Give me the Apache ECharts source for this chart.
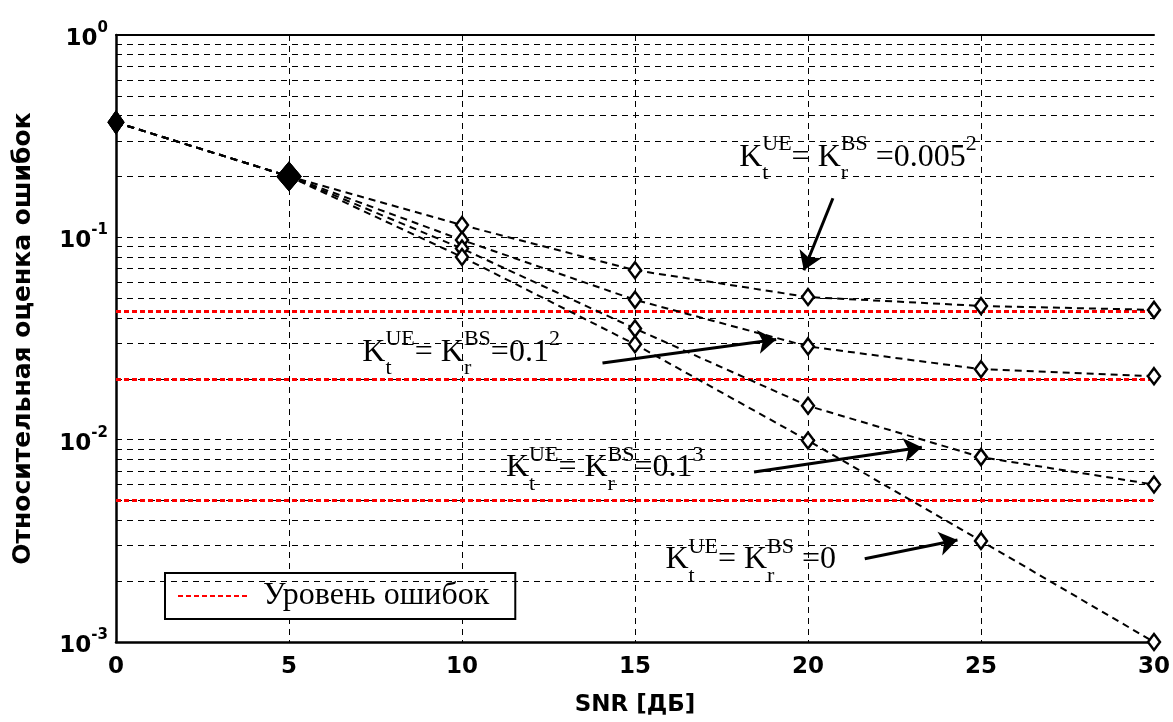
<!DOCTYPE html>
<html>
<head>
<meta charset="utf-8">
<script src="https://cdn.jsdelivr.net/npm/echarts@6/dist/echarts.min.js"></script>
<style>
  html, body { margin: 0; padding: 0; background: #fff; }
  #chart { width: 1173px; height: 722px; }
</style>
</head>
<body>
<div id="chart"></div>
<script>
// SNR values (dB)
const snr = [0, 5, 10, 15, 20, 25, 30];

// Relative error estimate for each impairment level
const errK0052 = [0.37, 0.20, 0.115, 0.0688, 0.0507, 0.0458, 0.0438]; // K = 0.005^2
const errK012 = [0.37, 0.20, 0.097, 0.0491, 0.0289, 0.0223, 0.0206];  // K = 0.1^2
const errK013 = [0.37, 0.20, 0.088, 0.0354, 0.0147, 0.0082, 0.0060];  // K = 0.1^3
const errK0 = [0.37, 0.20, 0.080, 0.0296, 0.0099, 0.00316, 0.0010];   // K = 0

// Error level thresholds
const errorLevels = [0.043, 0.02, 0.005];

// Axis ticks
const xTicks = [0, 5, 10, 15, 20, 25, 30];
const yDecades = [0.001, 0.01, 0.1, 1];

// Annotation text anchors (data coords) and arrows (from -> to, data coords)
const annotations = [
  { at: [18.01, 0.2478], value: '0.005', exp: '2', gap: ' ' },
  { at: [7.12, 0.0270], value: '0.1', exp: '2', gap: '' },
  { at: [11.27, 0.00725], value: '0.1', exp: '3', gap: '' },
  { at: [15.88, 0.00255], value: '0', exp: '', gap: ' ' }
];
const arrows = [
  [[20.72, 0.156], [19.88, 0.0688]],
  [[14.06, 0.0239], [19.08, 0.0313]],
  [[18.44, 0.00693], [23.29, 0.00918]],
  [[21.64, 0.00258], [24.32, 0.00319]]
];

const curves = [errK0052, errK012, errK013, errK0];

// minor grid values 2..9 within each decade
const minorGrid = [];
for (let i = 0; i < yDecades.length - 1; i++) {
  for (let m = 2; m <= 9; m++) minorGrid.push(+(yDecades[i] * m).toPrecision(3));
}
const xMin = xTicks[0], xMax = xTicks[xTicks.length - 1];
const hLine = v => [{ coord: [xMin, v] }, { coord: [xMax, v] }];

const chart = echarts.init(document.getElementById('chart'), null, { renderer: 'canvas' });

const gridDash = { color: '#000', width: 1, type: [6, 5] };
const redDot = { color: '#ff0000', width: 3, type: [5, 3] };

function curveSeries(values, idx) {
  return {
    type: 'line',
    name: 'c' + idx,
    z: 5 + idx,
    data: values.map((v, i) => {
      const p = { value: [snr[i], v] };
      if (i === 0) p.symbolSize = [14, 20];
      if (i === 1) p.symbolSize = [22, 26];
      if (i < 2) p.itemStyle = { color: '#000' };
      return p;
    }),
    symbol: 'diamond',
    symbolSize: [12, 16],
    showAllSymbol: true,
    itemStyle: { color: '#fff', borderColor: '#000', borderWidth: 2.5 },
    lineStyle: { color: '#000', width: 2, type: [7, 5] },
    emphasis: { disabled: true },
    animation: false
  };
}

const option = {
  animation: false,
  backgroundColor: '#fff',
  grid: { left: 116, right: 16, top: 35, bottom: 73, show: false },
  legend: {
    data: [{ name: 'Уровень ошибок', itemStyle: { opacity: 0 } }],
    left: 165, top: 573,
    orient: 'horizontal',
    backgroundColor: '#fff',
    borderColor: '#000', borderWidth: 2, borderRadius: 0,
    padding: [7, 26, 7, 12],
    itemWidth: 72, itemHeight: 14,
    itemGap: 0,
    textStyle: { fontFamily: 'Liberation Serif', fontSize: 32, color: '#000', padding: [0, 0, 0, 8] },
    selectedMode: false
  },
  xAxis: [{
    type: 'value', min: xMin, max: xMax, interval: 5,
    axisLine: { show: true, onZero: false, lineStyle: { color: '#000', width: 2.5 } },
    axisTick: { show: false },
    axisLabel: { color: '#000', fontFamily: 'DejaVu Sans', fontWeight: 'bold', fontSize: 23, margin: 14,
      formatter: v => xTicks.includes(v) ? String(v) : '' },
    splitLine: { show: true, showMinLine: false, showMaxLine: false, lineStyle: gridDash },
    name: 'SNR [ДБ]', nameLocation: 'middle', nameGap: 52,
    nameTextStyle: { color: '#000', fontFamily: 'DejaVu Sans', fontWeight: 'bold', fontSize: 23 }
  }, {
    type: 'value', min: xMin, max: xMax, position: 'top',
    axisLine: { show: true, onZero: false, lineStyle: { color: '#000', width: 2 } },
    axisTick: { show: false }, axisLabel: { show: false }, splitLine: { show: false }
  }],
  yAxis: {
    type: 'log', logBase: 10, min: 0.001, max: 1,
    axisLine: { show: true, onZero: false, lineStyle: { color: '#000', width: 2.5 } },
    axisTick: { show: false },
    axisLabel: {
      margin: 8,
      formatter: v => '{b|10}{s|' + Math.round(Math.log10(v)) + '}',
      rich: {
        b: { fontFamily: 'DejaVu Sans', fontWeight: 'bold', fontSize: 23, color: '#000', padding: [8, 0, 0, 0] },
        s: { fontFamily: 'DejaVu Sans', fontWeight: 'bold', fontSize: 15, color: '#000', padding: [0, 0, 14, 0] }
      }
    },
    splitLine: { show: true, showMaxLine: false, showMinLine: false, lineStyle: gridDash },
    name: 'Относительная оценка ошибок', nameLocation: 'middle', nameGap: 80, nameRotate: 90,
    nameTextStyle: { color: '#000', fontFamily: 'DejaVu Sans', fontWeight: 'bold', fontSize: 25 }
  },
  series: [
    {
      type: 'line', name: 'grid', data: [], silent: true,
      markLine: {
        silent: true, symbol: 'none', animation: false,
        label: { show: false },
        lineStyle: gridDash,
        data: minorGrid.map(hLine)
      }
    },
    {
      type: 'line', name: 'Уровень ошибок', data: [], silent: true, symbol: 'none', z: 4,
      lineStyle: redDot,
      itemStyle: { color: '#ff0000' },
      markLine: {
        silent: true, symbol: 'none', animation: false,
        label: { show: false },
        lineStyle: redDot,
        data: errorLevels.map(hLine)
      }
    },
    ...curves.map(curveSeries),
    {
      type: 'line', name: 'arrows', data: [], silent: true, z: 20,
      itemStyle: { color: '#000' },
      markLine: {
        silent: true, animation: false,
        symbol: ['none', 'arrow'], symbolSize: 18,
        label: { show: false },
        itemStyle: { color: '#000' },
        lineStyle: { color: '#000', width: 3, type: 'solid' },
        data: arrows.map(a => [{ coord: a[0] }, { coord: a[1] }])
      }
    }
  ]
};

chart.setOption(option);

// Text annotations of the form K_t^UE = K_r^BS = value^exp
const measureCtx = document.createElement('canvas').getContext('2d');
function textWidth(str, size) {
  measureCtx.font = size + 'px "Liberation Serif"';
  return measureCtx.measureText(str).width;
}
const mainSize = 32, smallSize = 22;
function buildAnnotation(a) {
  const pt = chart.convertToPixel({ gridIndex: 0 }, a.at);
  let x = pt[0];
  const y = pt[1];
  const els = [];
  const put = (str, size, dy) => {
    els.push({
      type: 'text', z: 30, silent: true,
      style: { text: str, x: x, y: y + dy, font: size + 'px "Liberation Serif"', fill: '#000',
        verticalAlign: 'middle', align: 'left' }
    });
    return textWidth(str, size);
  };
  const kBlock = (sub, sup) => {
    x += put('K', mainSize, 0);
    const w1 = put(sup, smallSize, -13);
    const w2 = put(sub, smallSize, 16);
    x += Math.max(w1, w2);
  };
  kBlock('t', 'UE');
  x += put('= ', mainSize, 0);
  kBlock('r', 'BS');
  x += put(a.gap + '=' + a.value, mainSize, 0);
  if (a.exp) put(a.exp, smallSize, -13);
  return els;
}
chart.setOption({ graphic: annotations.flatMap(buildAnnotation) });
</script>
</body>
</html>
